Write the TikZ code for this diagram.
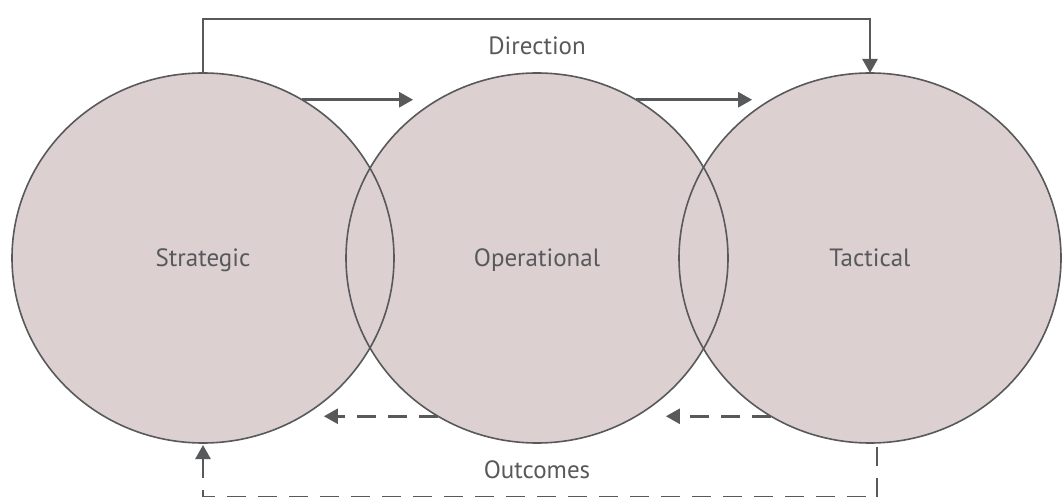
\documentclass[tikz,border=0pt]{standalone}
\usepackage{fontspec}
\setmainfont{PT Sans}
\usepackage{tikz}
\usetikzlibrary{calc, arrows.meta, shapes.geometric, backgrounds, positioning}
\definecolor{circfill}{RGB}{220, 208, 209}
\definecolor{inkgray}{RGB}{88, 89, 91}
\tikzset{
    stagenode/.style = {draw=inkgray, ellipse, line width=1.6pt, inner sep = 0em, outer sep = 0em,
      minimum width=382pt, minimum height=370pt, node distance=0em, text height=20pt, text depth=4pt,
      font=\fontsize{25}{30}\selectfont, text=inkgray},
    textnode/.style  = {draw=none, fill=none, rectangle, inner sep = 0em, node distance=0em,
      text height=20pt, text depth=4pt, font=\fontsize{25}{30}\selectfont, text=inkgray},
    connect/.style = {inkgray, line width=2.6pt, -{Triangle[length=14pt, width=15pt]}},
    feedback/.style = {connect, dash pattern=on 19pt off 12pt}
}
\begin{document}
\begin{tikzpicture}[x=1pt, y=-1pt]
\useasboundingbox (0,0) rectangle (1063,497);
\node[stagenode, name=strat] at (203,258) {Strategic};
\node[stagenode, name=oper, right of = strat, xshift=334pt] {Operational};
\node[stagenode, name=tact, right of = oper, xshift=333pt] {Tactical};
\begin{scope}[on background layer]
\foreach \n in {strat, oper, tact}
  \fill[circfill] (\n) ellipse [x radius=191pt, y radius=185pt];
\end{scope}

\node[textnode, name=dir, above of = oper, yshift=211pt] {Direction};
\node[textnode, name=outc, below of = oper, yshift=-212pt] {Outcomes};

% direction, top
\draw[connect] (strat.north) -- ++(0,-54) -| (tact.north);
\draw[connect] (strat.58) -- ([xshift=-25pt]oper.122);
\draw[connect] (oper.58) -- ([xshift=-19pt]tact.122);

% outcomes, bottom
\draw[feedback] (oper.238) -- ([xshift=22pt]strat.302);
\draw[feedback] (tact.238) -- ([xshift=30pt]oper.302);
\draw[feedback] ([xshift=7pt, yshift=-4pt]tact.south) -- ++(0,50.5) -| ([yshift=-2pt]strat.south);
\end{tikzpicture}
\end{document}
